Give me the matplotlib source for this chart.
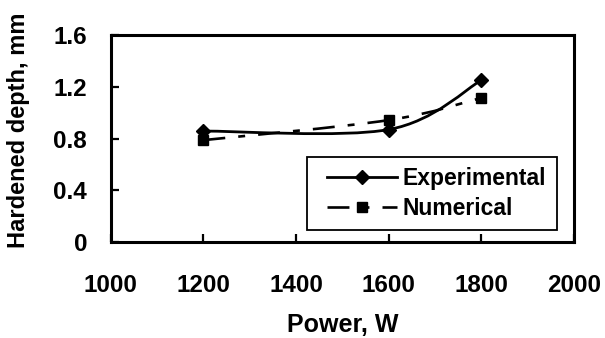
import matplotlib
matplotlib.use("Agg")
import matplotlib.pyplot as plt
from matplotlib.path import Path
from matplotlib.patches import PathPatch
from matplotlib.lines import Line2D
from matplotlib.legend_handler import HandlerLine2D

# values
power = [1200, 1600, 1800]
experimental = [0.858, 0.870, 1.252]
numerical = [0.788, 0.943, 1.115]
xticks = [1000, 1200, 1400, 1600, 1800, 2000]
yticks = [0, 0.4, 0.8, 1.2, 1.6]
ytick_labels = ["0", "0.4", "0.8", "1.2", "1.6"]

plt.rcParams['font.family'] = ['Liberation Sans', 'DejaVu Sans']
plt.rcParams['font.weight'] = 'bold'
plt.rcParams['lines.scale_dashes'] = False


def smooth_path(xs, ys):
	# excel style smoothed line: cubic bezier through the points
	pts = list(zip(xs, ys))
	n = len(pts)
	verts = [pts[0]]
	codes = [Path.MOVETO]
	for i in range(n-1):
		p0 = pts[i-1] if i > 0 else pts[i]
		p1 = pts[i]
		p2 = pts[i+1]
		p3 = pts[i+2] if i+2 < n else pts[i+1]
		c1 = (p1[0]+(p2[0]-p0[0])/6.0, p1[1]+(p2[1]-p0[1])/6.0)
		c2 = (p2[0]-(p3[0]-p1[0])/6.0, p2[1]-(p3[1]-p1[1])/6.0)
		verts += [c1, c2, p2]
		codes += [Path.CURVE4, Path.CURVE4, Path.CURVE4]
	return Path(verts, codes)


dash = (0, (15.8, 9.4, 5, 9.4))

fig = plt.figure(figsize=(6.05, 3.38), dpi=100)
ax = fig.add_axes([0.183, 0.284, 0.766, 0.612])

ax.add_patch(PathPatch(smooth_path(power, experimental), fill=False, edgecolor='black', linewidth=2.0))
ax.add_patch(PathPatch(smooth_path(power, numerical), fill=False, edgecolor='black', linewidth=1.9, linestyle=dash))
ax.plot(power, experimental, linestyle='none', marker='D', markersize=7.3, color='black')
ax.plot(power, numerical, linestyle='none', marker='s', markersize=6.5, color='black')

ax.set_xlim(1000, 2000)
ax.set_ylim(0, 1.6)
ax.set_xticks(xticks)
ax.set_yticks(yticks)
ax.set_yticklabels(ytick_labels)
ax.tick_params(direction='in', length=6, width=1.6, labelsize=17.5)
ax.tick_params(axis='x', pad=23)
ax.tick_params(axis='y', pad=17)
for s in ax.spines.values():
	s.set_linewidth(2.2)

ax.set_xlabel("Power, W", fontsize=18, fontweight='bold')
ax.xaxis.set_label_coords(0.5, -0.343)
ax.set_ylabel("Hardened depth, mm", fontsize=17, fontweight='bold')
ax.yaxis.set_label_coords(-0.175, 0.541)

handles = [Line2D([], [], color='black', linewidth=2.0, marker='D', markersize=7.3),
	Line2D([], [], color='black', linewidth=1.9, linestyle=dash, marker='s', markersize=6.5)]
leg = ax.legend(handles, ["Experimental", "Numerical"], loc='lower left', bbox_to_anchor=(0.423, 0.058),
	borderaxespad=0, fontsize=16.5, handlelength=3.49, handletextpad=0.25, labelspacing=0.28,
	borderpad=0.45, fancybox=False, framealpha=1, edgecolor='black',
	handler_map={Line2D: HandlerLine2D(xpad=0.42)})
leg.get_frame().set_linewidth(1.3)

plt.savefig("out.png", dpi=100)
